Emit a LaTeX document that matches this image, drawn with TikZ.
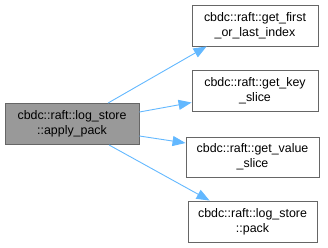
\documentclass[tikz,border=0pt]{standalone}
\usepackage{fontspec}
\setmainfont{Liberation Sans}
\usetikzlibrary{arrows.meta,calc}
\definecolor{edgeblue}{HTML}{63B8FF}
\definecolor{boxline}{HTML}{666666}
\definecolor{focusfill}{HTML}{999999}
\begin{document}
\begin{tikzpicture}[x=1pt,y=-1pt,
  fn/.style={draw=boxline,line width=0.9pt,fill=white,inner sep=0pt,
    align=center,font=\fontsize{12.4}{15}\selectfont,text=black},
  focus/.style={fn,fill=focusfill},
  call/.style={draw=edgeblue,line width=0.9pt,
    -{Triangle[length=13pt,width=10pt]}}]
\useasboundingbox (0,0) rectangle (328,247);
\node[focus,minimum width=134pt,minimum height=41pt] (L) at (72,124)
  {cbdc::raft::log\_store\\::apply\_pack};
\node[fn,minimum width=126pt,minimum height=41pt] (A) at (255,25.5)
  {cbdc::raft::get\_first\\\_or\_last\_index};
\node[fn,minimum width=126pt,minimum height=41pt] (B) at (255,90.5)
  {cbdc::raft::get\_key\\\_slice};
\node[fn,minimum width=133pt,minimum height=40pt] (C) at (252.5,157)
  {cbdc::raft::get\_value\\\_slice};
\node[fn,minimum width=129pt,minimum height=41pt] (D) at (252.5,221.5)
  {cbdc::raft::log\_store\\::pack};
\draw[call] ($(L.north)+(36,0)$) -- ($(A.south west)+(15,0)$);
\draw[call] ($(L.east)+(0,-12)$) -- ($(B.west)+(0,12)$);
\draw[call] ($(L.east)+(0,12)$) -- ($(C.west)+(0,-14)$);
\draw[call] ($(L.south)+(37,0)$) -- ($(D.north west)+(22,0)$);
\end{tikzpicture}
\end{document}
